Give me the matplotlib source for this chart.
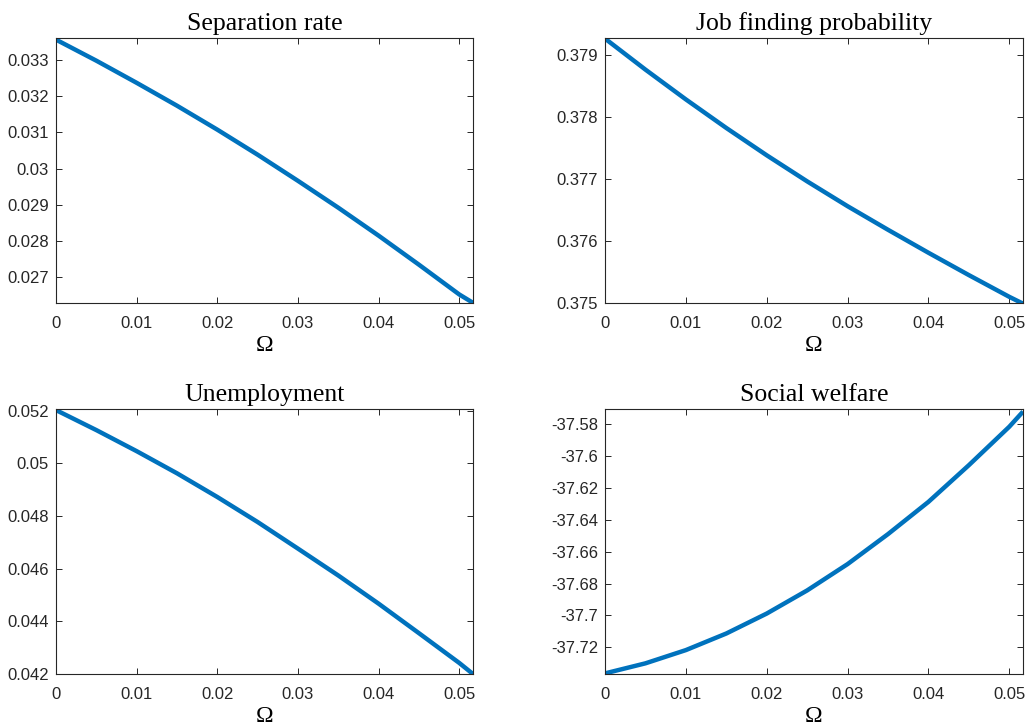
import matplotlib
matplotlib.use("Agg")
import matplotlib.pyplot as plt
from matplotlib.ticker import FormatStrFormatter, FixedLocator

# Grille en Omega
omega = [0, 0.005, 0.01, 0.015, 0.02, 0.025, 0.03, 0.035, 0.04, 0.045, 0.05, 0.0517]

separation = [0.03355, 0.03297, 0.03236, 0.03173, 0.03107, 0.03038,
              0.02966, 0.02892, 0.02815, 0.02735, 0.02653, 0.02630]
job_finding = [0.37926, 0.37876, 0.37828, 0.37782, 0.37738, 0.37696,
               0.37656, 0.37618, 0.37581, 0.37545, 0.37510, 0.37499]
unemployment = [0.05202, 0.05126, 0.05046, 0.04962, 0.04872, 0.04777,
                0.04676, 0.04574, 0.04467, 0.04355, 0.04242, 0.04200]
welfare = [-37.7363, -37.7300, -37.7217, -37.7113, -37.6988, -37.6843,
           -37.6678, -37.6490, -37.6288, -37.6058, -37.5817, -37.5722]

titles = ["Separation rate", "Job finding probability", "Unemployment", "Social welfare"]
series = [separation, job_finding, unemployment, welfare]

x_ticks = [0, 0.01, 0.02, 0.03, 0.04, 0.05]
y_ticks = [
    [0.027, 0.028, 0.029, 0.030, 0.031, 0.032, 0.033],
    [0.375, 0.376, 0.377, 0.378, 0.379],
    [0.042, 0.044, 0.046, 0.048, 0.050, 0.052],
    [-37.72, -37.70, -37.68, -37.66, -37.64, -37.62, -37.60, -37.58],
]
y_limits = [
    (0.026294, 0.033596),
    (0.37500, 0.37927),
    (0.04200, 0.05206),
    (-37.7367, -37.5706),
]

# Positions des axes (fraction de la figure)
positions = [
    [0.0546, 0.5826, 0.4064, 0.3651],
    [0.5897, 0.5826, 0.4074, 0.3651],
    [0.0546, 0.0716, 0.4064, 0.3650],
    [0.5897, 0.0716, 0.4074, 0.3650],
]

blue = "#0072BD"
dark = "#262626"

fig = plt.figure(figsize=(10.26, 7.26), dpi=100)

for pos, title, y, yt, yl in zip(positions, titles, series, y_ticks, y_limits):
    ax = fig.add_axes(pos)
    ax.plot(omega, y, color=blue, linewidth=3.2, solid_capstyle="butt",
            solid_joinstyle="round")
    ax.set_xlim(0, 0.0517)
    ax.set_ylim(*yl)
    ax.xaxis.set_major_locator(FixedLocator(x_ticks))
    ax.yaxis.set_major_locator(FixedLocator(yt))
    ax.xaxis.set_major_formatter(FormatStrFormatter("%g"))
    ax.yaxis.set_major_formatter(FormatStrFormatter("%g"))
    ax.tick_params(direction="in", length=4, width=0.7, colors=dark,
                   top=True, right=True, labelsize=12)
    ax.tick_params(axis="x", pad=9)
    ax.tick_params(axis="y", pad=5)
    for lab in ax.get_xticklabels() + ax.get_yticklabels():
        lab.set_family("Liberation Sans")
    for sp in ax.spines.values():
        sp.set_color(dark)
        sp.set_linewidth(0.8)
    ax.set_title(title, fontsize=18.5, family="Liberation Serif", pad=6)
    ax.set_xlabel("Ω", fontsize=17, family="Liberation Serif", labelpad=3)

fig.savefig("out.png", dpi=100)
